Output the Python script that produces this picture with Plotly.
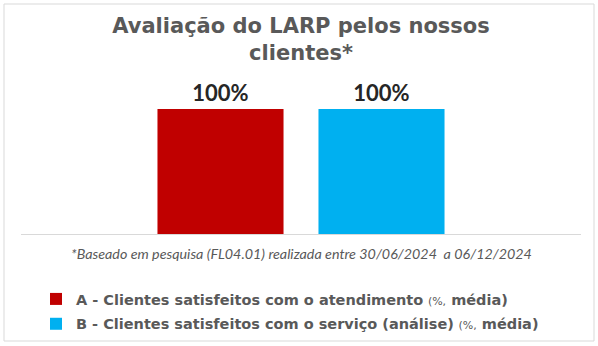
import plotly.graph_objects as go

categories = [""]
series_names = [
    "<b>A - Clientes satisfeitos com o atendimento</b> <span style='font-size:11px'>(%,</span><b> média)</b>",
    "<b>B - Clientes satisfeitos com o serviço (análise)</b> <span style='font-size:11px'>(%,</span><b> média)</b>",
]
series_values = [[100], [100]]
series_colors = ["#C00000", "#00B0F0"]
label_texts = [["100%"], ["100%"]]

W, H = 598, 346
L, R, T, B = 21, 17, 109, 112
pw, ph = W - L - R, H - T - B

fig = go.Figure()
for i, (name, vals, col, txt) in enumerate(zip(series_names, series_values, series_colors, label_texts)):
    fig.add_trace(go.Bar(
        x=categories, y=vals, name=name, marker=dict(color=col, line=dict(width=0)),
        text=txt, textposition="outside", cliponaxis=False, constraintext="none",
        textfont=dict(family="Lato", size=22, color="#262626", weight="bold"),
        hoverinfo="skip", legendgroup=f"g{i}",
    ))

fig.update_layout(
    width=W, height=H,
    margin=dict(l=L, r=R, t=T, b=B, autoexpand=False),
    paper_bgcolor="white", plot_bgcolor="white",
    barmode="group", bargap=0.425, bargroupgap=0.217,
    title=dict(
        text="<b>Avaliação do LARP pelos nossos<br>clientes*</b>",
        x=0.5, xanchor="center", xref="paper",
        y=1 - 33 / H, yanchor="middle", yref="container",
        font=dict(family="DejaVu Sans", size=21, color="#595959"),
    ),
    xaxis=dict(showline=True, linecolor="#D9D9D9", linewidth=1, showticklabels=False,
               ticks="", showgrid=False, zeroline=False, fixedrange=True),
    yaxis=dict(range=[0, 100], visible=False, showgrid=False, zeroline=False),
    showlegend=True,
    legend=dict(
        orientation="v", x=(36 - L) / pw, xanchor="left", y=(T + ph - 283) / ph, yanchor="top",
        font=dict(family="DejaVu Sans", size=14.5, color="#595959"),
        bgcolor="rgba(0,0,0,0)", itemclick=False, itemdoubleclick=False,
        traceorder="grouped", tracegroupgap=3,
    ),
    annotations=[dict(
        text="<i>*Baseado em pesquisa (FL04.01) realizada entre 30/06/2024  a 06/12/2024</i>",
        xref="paper", yref="paper", x=0.5, y=(234 - 253) / ph, xanchor="center", yanchor="middle",
        showarrow=False, font=dict(family="Lato", size=14.3, color="#595959"),
    )],
    shapes=[dict(
        type="rect", xref="paper", yref="paper",
        x0=(4 - L) / pw, x1=(594 - L) / pw,
        y0=(T + ph - 341) / ph, y1=(T + ph - 4) / ph,
        line=dict(color="#D9D9D9", width=1), fillcolor="rgba(0,0,0,0)", layer="below",
    )],
)

fig.write_html("out.html")
